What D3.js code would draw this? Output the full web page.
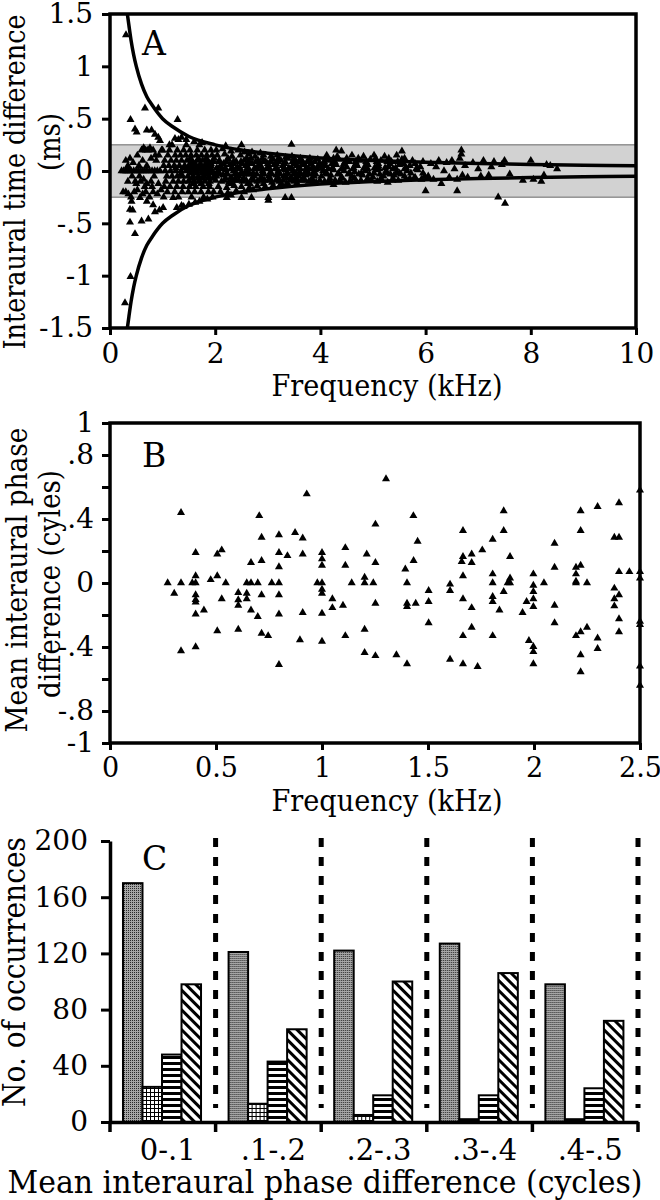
<!DOCTYPE html>
<html>
<head>
<meta charset="utf-8">
<script src="https://cdn.jsdelivr.net/npm/d3@7"></script>
<style>
  body { margin: 0; background: #fff; }
  svg text { font-family: "DejaVu Serif", "Liberation Serif", serif; fill: #000; }
</style>
</head>
<body>
<div id="chart"></div>
<script>
// ---- Panel A: interaural time difference vs frequency (kHz, ms)
const itdPoints = [
  // below 1 kHz
  [0.22,0],[0.26,0],[0.30,0],[0.33,0],[0.36,0],[0.40,0],[0.45,0],[0.50,0],[0.54,0],[0.58,0],[0.62,0],[0.66,0],[0.70,0],[0.75,0],[0.80,0],[0.85,0],[0.90,0],[0.95,0],
  [0.25,-0.2],[0.30,-0.2],[0.35,-0.22],[0.40,-0.25],[0.46,-0.2],[0.52,-0.18],[0.57,-0.255],[0.62,-0.22],[0.68,-0.2],[0.75,-0.25],[0.82,-0.2],[0.90,-0.22],[0.97,-0.18],
  [0.30,0.1],[0.34,0.05],[0.38,0.12],[0.44,0.08],[0.48,-0.1],[0.52,0.15],[0.56,-0.05],[0.60,0.2],[0.64,0.22],[0.68,0.2],[0.72,0.2],[0.76,0.22],[0.82,0.2],[0.88,0.1],[0.93,0.15],[0.98,0.2],
  [0.34,-0.1],[0.42,-0.05],[0.50,-0.12],[0.58,-0.1],[0.64,-0.08],[0.70,-0.12],[0.78,-0.1],[0.84,-0.05],[0.92,-0.12],[0.62,0.1],[0.70,0.05],[0.78,0.12],[0.86,0.15],[0.55,0.05],[0.66,-0.15],[0.80,-0.15],
  [0.41,-0.29],[0.38,-0.366],[0.43,-0.375],[0.38,-0.49],[0.475,-0.60],[0.60,-0.48],[0.73,-0.46],[0.70,-0.29],[0.82,-0.325],[0.855,-0.39],[0.94,-0.375],[1.01,-0.35],[1.20,-0.255],[1.27,-0.35],[1.36,-0.33],
  [0.39,0.49],[0.665,0.60],[0.918,0.60],[1.285,0.49],[0.475,0.40],[0.507,0.37],[0.70,0.39],[0.79,0.39],[0.855,0.35],[0.918,0.32],[1.235,0.31],[1.36,0.32],[0.95,0.29],[1.13,0.25],
  [0.304,1.30],[0.285,-1.26],[0.39,-1.01],
  // 1-2 kHz
  [1.05,0],[1.15,0],[1.25,0],[1.35,0],[1.45,0],[1.55,0],[1.65,0],[1.75,0],[1.85,0],[1.95,0],
  [1.02,0.05],[1.12,0.05],[1.22,0.05],[1.32,0.05],[1.42,0.05],[1.52,0.05],[1.62,0.05],[1.72,0.05],[1.82,0.05],[1.92,0.05],
  [1.08,-0.05],[1.18,-0.05],[1.28,-0.05],[1.38,-0.05],[1.48,-0.05],[1.58,-0.05],[1.68,-0.05],[1.78,-0.05],[1.88,-0.05],[1.98,-0.05],
  [1.04,0.1],[1.16,0.1],[1.26,0.1],[1.36,0.1],[1.46,0.1],[1.56,0.1],[1.66,0.1],[1.76,0.1],[1.86,0.1],[1.96,0.1],
  [1.06,-0.1],[1.20,-0.1],[1.30,-0.1],[1.40,-0.1],[1.50,-0.1],[1.60,-0.1],[1.70,-0.1],[1.80,-0.1],[1.90,-0.1],
  [1.10,0.15],[1.24,0.15],[1.34,0.15],[1.44,0.15],[1.54,0.15],[1.64,0.15],[1.74,0.15],[1.84,0.15],[1.94,0.15],
  [1.03,-0.15],[1.14,-0.15],[1.27,-0.15],[1.39,-0.15],[1.51,-0.15],[1.63,-0.15],[1.77,-0.15],[1.89,-0.15],
  [1.00,0.2],[1.13,0.2],[1.28,0.2],[1.40,0.2],[1.52,0.2],[1.66,0.2],[1.80,0.2],[1.92,0.2],
  [1.09,-0.2],[1.23,-0.2],[1.37,-0.2],[1.49,-0.2],[1.61,-0.2],[1.73,-0.2],[1.87,-0.2],[1.97,-0.2],
  [1.18,0.25],[1.45,0.25],[1.70,0.25],[1.02,-0.25],[1.30,-0.25],[1.55,-0.25],[1.78,-0.25],[1.95,-0.25],
  [1.30,0.3],[1.45,0.3],[1.60,0.28],[1.75,0.27],[1.50,-0.32],[1.62,-0.3],[1.70,-0.29],[1.85,-0.27],[1.40,-0.34],
  [1.50,0.02],[1.60,0.02],[1.70,0.02],[1.80,0.02],[1.90,0.02],[1.55,-0.02],[1.65,-0.02],[1.75,-0.02],[1.85,-0.02],[1.95,-0.02],
  [1.52,0.07],[1.62,0.07],[1.72,0.07],[1.82,0.07],[1.92,0.07],[1.57,-0.07],[1.67,-0.07],[1.77,-0.07],[1.87,-0.07],[1.97,-0.07],
  [1.53,0.12],[1.68,0.12],[1.83,0.12],[1.98,0.12],[1.58,-0.12],[1.73,-0.12],[1.88,-0.12],
  [1.25,0.03],[1.40,0.03],[1.55,0.09],[1.70,-0.09],[1.85,0.09],[1.35,-0.03],[1.50,-0.09],[1.65,0.03],[1.80,-0.03],[1.95,0.09],
  // 2-4 kHz
  [2.05,0],[2.20,0.01],[2.35,0],[2.50,-0.01],[2.62,0],[2.78,0.02],[2.90,0],[3.05,-0.01],[3.20,0],[3.33,0.01],[3.48,0],[3.60,-0.02],[3.75,0],[3.90,0.01],
  [2.10,0.05],[2.28,0.06],[2.42,0.04],[2.58,0.05],[2.70,0.07],[2.85,0.05],[3.00,0.04],[3.12,0.06],[3.28,0.05],[3.40,0.03],[3.55,0.05],[3.70,0.06],[3.85,0.04],[3.97,0.05],
  [2.02,-0.05],[2.15,-0.04],[2.30,-0.06],[2.45,-0.05],[2.60,-0.03],[2.74,-0.05],[2.88,-0.06],[3.02,-0.05],[3.16,-0.04],[3.30,-0.05],[3.44,-0.06],[3.58,-0.05],[3.72,-0.04],[3.88,-0.05],
  [2.08,0.1],[2.25,0.11],[2.40,0.09],[2.55,0.1],[2.68,0.12],[2.82,0.1],[2.96,0.09],[3.10,0.11],[3.25,0.1],[3.38,0.12],[3.52,0.1],[3.66,0.09],[3.80,0.1],[3.95,0.11],
  [2.12,-0.1],[2.26,-0.11],[2.38,-0.09],[2.52,-0.1],[2.66,-0.12],[2.80,-0.1],[2.94,-0.09],[3.08,-0.11],[3.22,-0.1],[3.36,-0.12],[3.50,-0.1],[3.64,-0.09],[3.78,-0.1],[3.92,-0.11],
  [2.04,0.15],[2.18,0.16],[2.32,0.14],[2.48,0.15],[2.64,0.16],[2.76,0.14],[2.92,0.15],[3.06,0.14],[3.18,0.15],[3.34,0.13],[3.46,0.14],[3.62,0.12],
  [2.06,-0.15],[2.22,-0.16],[2.36,-0.14],[2.50,-0.15],[2.65,-0.16],[2.80,-0.14],[2.95,-0.15],[3.10,-0.14],[3.24,-0.13],[3.40,-0.14],[3.55,-0.12],
  [2.02,0.2],[2.14,0.21],[2.30,0.19],[2.44,0.2],[2.56,0.18],[2.70,0.18],[2.86,0.17],
  [2.10,-0.2],[2.24,-0.21],[2.40,-0.19],[2.55,-0.2],[2.72,-0.18],
  [2.22,-0.255],[2.50,0.25],[2.50,-0.255],[2.69,-0.255],[3.01,-0.255],[3.01,-0.28],[3.33,-0.255],[3.45,0.255],[3.45,-0.255],[2.20,0.24],[2.30,-0.23],
  [2.12,0.02],[2.30,0.02],[2.46,0.02],[2.64,0.02],[2.80,0.02],[2.98,0.02],[3.14,0.02],[3.30,0.02],[3.46,0.02],[3.62,0.02],[3.78,0.02],[3.94,0.02],
  [2.05,-0.02],[2.22,-0.02],[2.40,-0.02],[2.56,-0.02],[2.72,-0.02],[2.90,-0.02],[3.06,-0.02],[3.22,-0.02],[3.38,-0.02],[3.54,-0.02],[3.70,-0.02],[3.86,-0.02],
  [2.16,0.07],[2.34,0.07],[2.50,0.07],[2.66,0.07],[2.84,0.07],[3.00,0.07],[3.16,0.07],[3.32,0.07],[3.50,0.07],[3.66,0.07],[3.82,0.07],[3.98,0.07],
  [2.20,-0.07],[2.38,-0.07],[2.54,-0.07],[2.70,-0.07],[2.86,-0.07],[3.04,-0.07],[3.20,-0.07],[3.36,-0.07],[3.52,-0.07],[3.68,-0.07],[3.84,-0.07],
  [2.24,0.12],[2.60,0.12],[2.90,0.12],[3.20,0.12],[3.50,0.12],[3.80,0.12],[2.30,-0.12],[2.62,-0.12],[2.92,-0.12],[3.26,-0.12],[3.56,-0.12],[3.86,-0.12],
  [2.03,0.03],[2.19,0.03],[2.33,0.03],[2.47,0.03],[2.61,0.03],[2.75,0.03],[2.89,0.03],[3.03,0.03],[3.17,0.03],[3.31,0.03],[3.45,0.03],[3.59,0.03],[3.73,0.03],[3.87,0.03],
  [2.09,-0.03],[2.23,-0.03],[2.37,-0.03],[2.51,-0.03],[2.65,-0.03],[2.79,-0.03],[2.93,-0.03],[3.07,-0.03],[3.21,-0.03],[3.35,-0.03],[3.49,-0.03],[3.63,-0.03],[3.77,-0.03],[3.91,-0.03],
  [2.07,0.09],[2.21,0.09],[2.35,0.09],[2.49,0.09],[2.63,0.09],[2.77,0.09],[2.91,0.09],[3.05,0.09],[3.19,0.09],[3.33,0.09],[3.47,0.09],[3.61,0.09],[3.75,0.09],[3.89,0.09],
  [2.01,-0.09],[2.17,-0.09],[2.31,-0.09],[2.45,-0.09],[2.59,-0.09],[2.73,-0.09],[2.87,-0.09],[3.01,-0.09],[3.15,-0.09],[3.29,-0.09],[3.43,-0.09],[3.57,-0.09],[3.71,-0.09],[3.85,-0.09],[3.99,-0.09],
  // 4-6 kHz
  [4.05,0],[4.25,0.01],[4.45,0],[4.65,-0.01],[4.85,0],[5.05,0.01],[5.25,0],[5.45,-0.01],[5.65,0],[5.85,0.01],
  [4.10,0.05],[4.30,0.06],[4.50,0.04],[4.70,0.05],[4.90,0.06],[5.10,0.05],[5.30,0.04],[5.50,0.06],[5.70,0.05],[5.90,0.04],
  [4.02,-0.05],[4.20,-0.04],[4.40,-0.06],[4.60,-0.05],[4.80,-0.04],[5.00,-0.06],[5.20,-0.05],[5.40,-0.04],[5.60,-0.05],[5.80,-0.06],[5.98,-0.05],
  [4.15,0.1],[4.35,0.11],[4.55,0.09],[4.75,0.1],[4.95,0.11],[5.15,0.1],[5.35,0.09],[5.55,0.11],[5.75,0.1],[5.95,0.09],
  [4.08,-0.1],[4.28,-0.09],[4.48,-0.11],[4.68,-0.1],[4.88,-0.09],[5.08,-0.1],[5.28,-0.11],[5.48,-0.09],
  [4.12,0.15],[4.32,0.14],[4.60,0.15],[4.82,0.14],[5.02,0.15],[5.22,0.14],[5.45,0.15],
  [5.62,-0.08],[5.78,-0.07],[5.92,-0.08],
  [4.30,0.2],[4.40,0.19],[5.55,0.19],[6.00,-0.19],[4.25,-0.13],
  [4.15,0.02],[4.40,0.02],[4.62,0.02],[4.90,0.02],[5.12,0.02],[5.38,0.02],[5.60,0.02],[5.82,0.02],
  [4.10,-0.02],[4.35,-0.02],[4.55,-0.02],[4.78,-0.02],[5.02,-0.02],[5.25,-0.02],[5.50,-0.02],[5.72,-0.02],[5.95,-0.02],
  [4.05,0.07],[4.22,0.07],[4.45,0.07],[4.68,0.07],[4.88,0.07],[5.10,0.07],[5.32,0.07],[5.58,0.07],[5.80,0.07],
  [4.18,-0.07],[4.42,-0.07],[4.65,-0.07],[4.90,-0.07],[5.15,-0.07],[5.38,-0.07],[5.70,-0.07],
  [4.25,0.12],[4.50,0.12],[4.72,0.12],[5.05,0.12],[5.30,0.12],[5.60,0.12],
  [4.03,0.03],[4.23,0.03],[4.43,0.03],[4.63,0.03],[4.83,0.03],[5.03,0.03],[5.23,0.03],[5.43,0.03],[5.63,0.03],
  [4.13,-0.03],[4.33,-0.03],[4.53,-0.03],[4.73,-0.03],[4.93,-0.03],[5.13,-0.03],[5.33,-0.03],[5.53,-0.03],
  [4.07,0.09],[4.27,0.09],[4.47,0.09],[4.67,0.09],[4.87,0.09],[5.07,0.09],[5.27,0.09],[5.47,0.09],
  [4.17,-0.09],[4.37,-0.09],[4.57,-0.09],[4.77,-0.09],[4.97,-0.09],[5.17,-0.09],[5.37,-0.09],
  // 6-8.5 kHz
  [6.05,-0.05],[6.10,0.07],[6.15,-0.08],[6.20,0.04],[6.25,0.1],[6.30,-0.12],[6.35,0],[6.40,0.08],[6.45,-0.06],[6.50,0.1],[6.55,0.02],[6.60,-0.19],[6.60,-0.08],
  [6.65,0.12],[6.68,0.2],[6.68,0.16],[6.70,-0.04],[6.75,0.05],[6.80,-0.06],[6.90,0.08],[7.00,0.02],[7.05,-0.05],[7.10,0.1],[7.20,-0.04],[7.25,0.04],[7.30,0.09],
  [7.38,-0.25],[7.45,0.06],[7.51,-0.31],[7.50,0.1],[7.60,-0.03],[7.85,-0.09],[8.00,0.1],[8.05,-0.08],[8.20,-0.1],[8.25,-0.04],[8.30,0.06],[8.37,0.05],[8.50,0.02]
];
// half-cycle boundaries
const boundFreq = [0.33, 0.36, 0.4, 0.45, 0.5, 0.6, 0.7, 0.8, 1, 1.2, 1.5, 2, 2.5, 3, 4, 5, 6, 7, 8, 9, 10];
const boundUpper = [1.5, 1.39, 1.25, 1.11, 1.0, 0.83, 0.71, 0.63, 0.5, 0.42, 0.33, 0.25, 0.2, 0.17, 0.125, 0.1, 0.083, 0.071, 0.063, 0.056, 0.05];
const boundLower = [-1.5, -1.39, -1.25, -1.11, -1.0, -0.83, -0.71, -0.63, -0.5, -0.42, -0.33, -0.25, -0.2, -0.17, -0.125, -0.1, -0.083, -0.071, -0.063, -0.056, -0.05];
const itdBand = [-0.25, 0.25];
const itdTicks = [-1.5, -1, -0.5, 0, 0.5, 1, 1.5];
const itdTickLabels = ['-1.5', '-1', '-.5', '0', '.5', '1', '1.5'];
const freqTicksA = [0, 2, 4, 6, 8, 10];

// ---- Panel B: mean interaural phase difference (cycles) vs frequency (kHz)
const phasePoints = [
  [0.272,0],[0.303,-0.065],[0.335,0],[0.335,0.44],[0.335,-0.425],
  [0.388,0],[0.404,0],[0.404,0.19],[0.404,0.044],[0.404,-0.075],[0.404,-0.105],[0.404,-0.12],[0.404,-0.195],[0.404,-0.40],
  [0.443,-0.17],[0.475,0.02],[0.506,0.044],[0.506,0.18],[0.506,-0.30],[0.527,0.206],[0.527,-0.10],[0.546,0],
  [0.605,-0.06],[0.605,-0.106],[0.605,-0.14],[0.605,-0.29],
  [0.645,0],[0.645,-0.065],[0.645,-0.10],[0.665,0],[0.665,0.127],[0.665,-0.17],[0.697,0],[0.697,-0.21],
  [0.704,0.42],[0.715,0.285],[0.715,0.14],[0.715,-0.075],[0.715,-0.315],[0.746,-0.33],
  [0.763,0],[0.797,0],[0.797,0.30],[0.797,0.19],[0.797,0.10],[0.797,-0.075],[0.797,-0.195],[0.797,-0.51],
  [0.837,0.17],[0.873,0.315],[0.896,-0.356],[0.909,0.28],[0.909,0.18],[0.909,-0.186],[0.928,0.556],
  [0.978,0],[1.0,0],[1.0,0.19],[1.0,0.15],[1.0,0.11],[1.0,-0.04],[1.0,-0.065],[1.0,-0.19],[1.0,-0.365],
  [1.049,-0.10],[1.049,-0.155],[1.099,-0.14],[1.11,0.22],[1.11,0.11],[1.11,-0.33],[1.14,0],
  [1.201,0.035],[1.201,0],[1.211,0.18],[1.201,-0.29],[1.201,-0.435],[1.242,0],[1.252,0.367],[1.252,0.127],[1.252,-0.127],[1.252,-0.455],
  [1.302,0.65],[1.351,-0.45],[1.393,0.086],[1.401,0],[1.401,-0.127],[1.401,-0.148],[1.401,-0.506],[1.431,0.42],[1.432,0.14],[1.442,-0.127],[1.451,0.26],
  [1.503,-0.048],[1.503,-0.117],[1.503,-0.25],[1.604,-0.008],[1.604,-0.048],[1.604,-0.477],
  [1.659,0.133],[1.665,0.165],[1.665,0.327],[1.665,0.044],[1.665,-0.10],[1.665,-0.33],[1.665,-0.506],
  [1.706,0.18],[1.706,0.127],[1.706,-0.155],[1.706,-0.277],[1.734,-0.523],[1.756,0.206],
  [1.805,0.273],[1.805,0.056],[1.805,0],[1.805,-0.085],[1.805,-0.117],[1.805,-0.33],[1.837,-0.17],
  [1.857,0.45],[1.857,0.327],[1.857,-0.054],[1.876,0],[1.887,0.165],[1.887,0.03],[1.887,0],
  [1.946,-0.185],[1.965,-0.117],[1.976,-0.36],[1.997,0.056],[1.997,-0.015],[1.997,-0.054],[1.997,-0.10],[1.997,-0.148],[1.997,-0.398],[1.997,-0.43],[1.997,-0.506],
  [2.047,0],[2.097,0.248],[2.097,0.098],[2.097,-0.14],[2.097,-0.25],
  [2.198,0.098],[2.198,0.056],[2.198,0],[2.198,0.01],[2.198,-0.33],[2.22,0.45],[2.22,0.327],[2.22,0.11],[2.22,-0.306],[2.22,-0.45],[2.22,-0.556],[2.25,0],[2.25,-0.277],
  [2.30,0.477],[2.30,-0.345],[2.30,-0.41],
  [2.379,0.285],[2.379,-0.033],[2.379,-0.10],[2.379,-0.144],[2.401,0.50],[2.401,0.285],[2.401,0.07],[2.401,-0.075],[2.401,-0.225],[2.401,-0.306],[2.45,0.07],
  [2.5,0.58],[2.5,0.07],[2.5,0.03],[2.5,-0.24],[2.5,-0.26],[2.5,-0.52],[2.5,-0.64]
];
const phaseTicks = [-1, -0.8, -0.6, -0.4, -0.2, 0, 0.2, 0.4, 0.6, 0.8, 1];
const phaseTickLabels = ['-1', '-.8', '', '-.4', '', '0', '', '.4', '', '.8', '1'];
const freqTicksB = [0, 0.5, 1, 1.5, 2, 2.5];
const freqTickLabelsB = ['0', '0.5', '1', '1.5', '2', '2.5'];

// ---- Panel C: occurrences per phase bin, four groups of bars
const phaseBins = ['0-.1', '.1-.2', '.2-.3', '.3-.4', '.4-.5'];
const barSeries = ['stipple', 'grid', 'hstripe', 'diag'];
const countsStipple = [170, 121, 122, 127, 98];
const countsGrid = [25, 13, 5, 2, 2];
const countsHstripe = [48, 43, 19, 19, 24];
const countsDiag = [98, 66, 100, 106, 72];
const countTicks = [0, 40, 80, 120, 160, 200];

const svg = d3.select('#chart').append('svg')
    .attr('width', 660)
    .attr('height', 1200)
    .style('background', '#fff');

// bar fill patterns
const defs = svg.append('defs');
const pStip = defs.append('pattern').attr('id', 'stipple').attr('patternUnits', 'userSpaceOnUse').attr('width', 2).attr('height', 2);
pStip.append('rect').attr('width', 2).attr('height', 2).attr('fill', '#a6a6a6');
pStip.append('rect').attr('width', 1).attr('height', 1).attr('fill', '#2a2a2a');
const pGrid = defs.append('pattern').attr('id', 'grid').attr('patternUnits', 'userSpaceOnUse').attr('width', 4).attr('height', 4);
pGrid.append('rect').attr('width', 4).attr('height', 4).attr('fill', '#fff');
pGrid.append('rect').attr('width', 4).attr('height', 1).attr('fill', '#000');
pGrid.append('rect').attr('width', 1).attr('height', 4).attr('fill', '#000');
const pH = defs.append('pattern').attr('id', 'hstripe').attr('patternUnits', 'userSpaceOnUse').attr('width', 6).attr('height', 6);
pH.append('rect').attr('width', 6).attr('height', 6).attr('fill', '#fff');
pH.append('rect').attr('width', 6).attr('height', 3).attr('fill', '#000');
const pD = defs.append('pattern').attr('id', 'diag').attr('patternUnits', 'userSpaceOnUse').attr('width', 7).attr('height', 7)
    .attr('patternTransform', 'rotate(-45)');
pD.append('rect').attr('width', 7).attr('height', 7).attr('fill', '#fff');
pD.append('rect').attr('width', 3).attr('height', 7).attr('fill', '#000');

function styleAxis(g, size) {
    g.attr('font-size', null).attr('font-family', null);
    g.selectAll('.tick line').attr('stroke', '#000').attr('stroke-width', 3);
    g.selectAll('.tick text').style('font-size', size + 'px');
}

// titles are squeezed to the widths they take in the reference (Times-like face)
function rotLabel(text, x, y, size, len) {
    svg.append('text')
        .attr('transform', `translate(${x},${y}) rotate(-90)`)
        .attr('text-anchor', 'middle')
        .attr('textLength', len).attr('lengthAdjust', 'spacingAndGlyphs')
        .style('font-size', size + 'px')
        .text(text);
}

function plainLabel(text, x, y, size, len, anchor) {
    const t = svg.append('text')
        .attr('x', x).attr('y', y)
        .attr('text-anchor', anchor || 'middle')
        .style('font-size', size + 'px')
        .text(text);
    if (len) t.attr('textLength', len).attr('lengthAdjust', 'spacingAndGlyphs');
}

const tri = d3.symbol().type(d3.symbolTriangle);

// ================= Panel A =================
const xA = d3.scaleLinear().domain([0, 10]).range([110, 636]);
const yA = d3.scaleLinear().domain([-1.5, 1.5]).range([328, 14]);

defs.append('clipPath').attr('id', 'clipA').append('rect')
    .attr('x', xA(0)).attr('y', yA(1.5)).attr('width', xA(10) - xA(0)).attr('height', yA(-1.5) - yA(1.5));

const gA = svg.append('g');
gA.append('rect')
    .attr('x', xA(0)).attr('width', xA(10) - xA(0))
    .attr('y', yA(itdBand[1])).attr('height', yA(itdBand[0]) - yA(itdBand[1]))
    .attr('fill', '#d2d2d2').attr('stroke', '#666').attr('stroke-width', 1);

gA.append('g').attr('clip-path', 'url(#clipA)')
    .selectAll('path')
    .data(itdPoints)
    .enter().append('path')
    .attr('d', tri.size(28))
    .attr('transform', d => `translate(${xA(d[0])},${yA(d[1])})`)
    .attr('fill', '#000');

const boundLine = d3.line().curve(d3.curveMonotoneX);
[boundUpper, boundLower].forEach(vals => {
    gA.append('path')
        .attr('clip-path', 'url(#clipA)')
        .attr('d', boundLine(boundFreq.map((f, i) => [xA(f), yA(vals[i])])))
        .attr('fill', 'none').attr('stroke', '#000').attr('stroke-width', 3.5);
});

gA.append('rect')
    .attr('x', xA(0)).attr('y', yA(1.5)).attr('width', xA(10) - xA(0)).attr('height', yA(-1.5) - yA(1.5))
    .attr('fill', 'none').attr('stroke', '#000').attr('stroke-width', 3.5);

const axAy = gA.append('g').attr('transform', `translate(${xA(0)},0)`)
    .call(d3.axisLeft(yA).tickValues(itdTicks).tickFormat((d, i) => itdTickLabels[i]).tickSize(8).tickPadding(9).tickSizeOuter(0));
axAy.select('.domain').remove();
styleAxis(axAy, 28);

const axAx = gA.append('g').attr('transform', `translate(0,${yA(-1.5)})`)
    .call(d3.axisBottom(xA).tickValues(freqTicksA).tickSize(7).tickPadding(8).tickSizeOuter(0));
axAx.select('.domain').remove();
styleAxis(axAx, 28);

plainLabel('A', 142, 55, 33, null, 'start');
plainLabel('Frequency (kHz)', 387, 396, 30, 231);
rotLabel('Interaural time difference', 25, 182, 30, 335);
rotLabel('(ms)', 60, 142, 30, 58);

// ================= Panel B =================
const xB = d3.scaleLinear().domain([0, 2.5]).range([110, 640]);
const yB = d3.scaleLinear().domain([-1, 1]).range([743, 423]);
const gB = svg.append('g');

gB.append('rect')
    .attr('x', xB(0)).attr('y', yB(1)).attr('width', xB(2.5) - xB(0)).attr('height', yB(-1) - yB(1))
    .attr('fill', 'none').attr('stroke', '#000').attr('stroke-width', 3.5);

gB.selectAll('path.pt')
    .data(phasePoints)
    .enter().append('path')
    .attr('class', 'pt')
    .attr('d', tri.size(28))
    .attr('transform', d => `translate(${xB(d[0])},${yB(d[1])})`)
    .attr('fill', '#000');

const axBy = gB.append('g').attr('transform', `translate(${xB(0)},0)`)
    .call(d3.axisLeft(yB).tickValues(phaseTicks).tickFormat((d, i) => phaseTickLabels[i]).tickSize(8).tickPadding(8).tickSizeOuter(0));
axBy.select('.domain').remove();
styleAxis(axBy, 28);

const axBx = gB.append('g').attr('transform', `translate(0,${yB(-1)})`)
    .call(d3.axisBottom(xB).tickValues(freqTicksB).tickFormat((d, i) => freqTickLabelsB[i]).tickSize(7).tickPadding(8).tickSizeOuter(0));
axBx.select('.domain').remove();
styleAxis(axBx, 27);

plainLabel('B', 142, 467, 33, null, 'start');
plainLabel('Frequency (kHz)', 387, 811, 30, 231);
rotLabel('Mean interaural phase', 27, 580, 30, 305);
rotLabel('difference (cyles)', 60, 584, 30, 228);

// ================= Panel C =================
const xC = d3.scaleBand().domain(phaseBins).range([110, 638]);
const bw = xC.bandwidth();
const xInner = d3.scaleBand().domain(barSeries).range([bw * 0.123, bw * 0.862]);
const yC = d3.scaleLinear().domain([0, 200]).range([1122, 841]);
const countsBySeries = { stipple: countsStipple, grid: countsGrid, hstripe: countsHstripe, diag: countsDiag };
const gC = svg.append('g');

// dotted separators at bin edges
gC.selectAll('line.sep')
    .data(phaseBins)
    .enter().append('line')
    .attr('class', 'sep')
    .attr('x1', d => xC(d) + bw).attr('x2', d => xC(d) + bw)
    .attr('y1', yC(200) - 3).attr('y2', yC(10))
    .attr('stroke', '#000').attr('stroke-width', 5)
    .attr('stroke-dasharray', '9,10');

const groups = gC.selectAll('g.bin')
    .data(phaseBins)
    .enter().append('g')
    .attr('class', 'bin')
    .attr('transform', d => `translate(${xC(d)},0)`);

groups.selectAll('rect')
    .data((bin, i) => barSeries.map(s => ({ s, v: countsBySeries[s][i] })))
    .enter().append('rect')
    .attr('x', d => xInner(d.s))
    .attr('width', xInner.bandwidth())
    .attr('y', d => yC(d.v))
    .attr('height', d => yC(0) - yC(d.v))
    .attr('fill', d => `url(#${d.s})`)
    .attr('stroke', '#000').attr('stroke-width', 2);

const axCy = gC.append('g').attr('transform', `translate(110,0)`)
    .call(d3.axisLeft(yC).tickValues(countTicks).tickSize(9).tickPadding(13).tickSizeOuter(0));
axCy.select('.domain').attr('stroke', '#000').attr('stroke-width', 3.5);
styleAxis(axCy, 28);

const axCx = gC.append('g').attr('transform', `translate(0,${yC(0)})`)
    .call(d3.axisBottom(xC).tickSize(0).tickPadding(17).tickSizeOuter(0));
axCx.select('.domain').attr('stroke', '#000').attr('stroke-width', 3.5);
styleAxis(axCx, 29);
axCx.selectAll('.tick text').attr('dx', 5);

// boundary ticks under the axis
gC.selectAll('line.edge')
    .data([phaseBins[0]].concat(phaseBins))
    .enter().append('line')
    .attr('class', 'edge')
    .attr('x1', (d, i) => i === 0 ? xC(d) : xC(d) + bw)
    .attr('x2', (d, i) => i === 0 ? xC(d) : xC(d) + bw)
    .attr('y1', yC(0)).attr('y2', yC(0) + 10)
    .attr('stroke', '#000').attr('stroke-width', 3.5);

plainLabel('C', 142, 870, 33, null, 'start');
rotLabel('No. of occurrences', 25, 972, 31, 270);
plainLabel('Mean interaural phase difference (cycles)', 325, 1193, 31, 635);
</script>
</body>
</html>
